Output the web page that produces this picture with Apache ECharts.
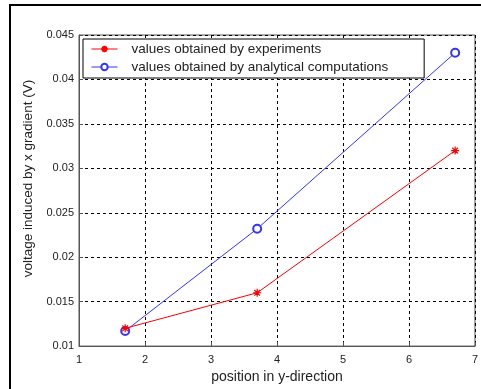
<!DOCTYPE html>
<html>
<head>
<meta charset="utf-8">
<script src="https://cdn.jsdelivr.net/npm/echarts@6/dist/echarts.min.js"></script>
<style>
html,body{margin:0;padding:0;background:#fff;}
#chart{width:481px;height:389px;}
</style>
</head>
<body>
<div id="chart"></div>
<script>
// measured points (position, voltage)
var xPos = [1.7, 3.7, 6.7];
var expValues = [0.012, 0.016, 0.032];
var calcValues = [0.0117, 0.0232, 0.043];
var seriesNames = ['values obtained by experiments', 'values obtained by analytical computations'];

var starPath = 'path://M0,-1L0,1M-1,0L1,0M-0.7,-0.7L0.7,0.7M-0.7,0.7L0.7,-0.7';

function pairs(xs, ys) {
    var out = [];
    for (var i = 0; i < xs.length; i++) {
        out.push([xs[i], ys[i]]);
    }
    return out;
}

var myChart = echarts.init(document.getElementById('chart'));
var font = 'Arial, "Liberation Sans", sans-serif';
var option = {
    animation: false,
    textStyle: {fontFamily: font},
    graphic: [{
        type: 'rect',
        shape: {x: 10, y: 5, width: 490, height: 400},
        style: {fill: 'none', stroke: '#000', lineWidth: 2},
        silent: true
    }],
    grid: {
        left: 79, right: 4, top: 35, bottom: 39,
        show: true,
        borderColor: '#555',
        borderWidth: 1
    },
    legend: {
        left: 83, top: 39,
        orient: 'vertical',
        backgroundColor: '#fff',
        borderColor: '#000',
        borderWidth: 1,
        padding: [2, 36, 3, 8],
        itemGap: 2,
        itemWidth: 26,
        itemHeight: 8,
        lineStyle: {width: 1},
        formatter: function (name) { return '{t|' + name + '}'; },
        textStyle: {
            fontSize: 13.5, color: '#222', fontFamily: font, padding: [0, 0, 0, 5], lineHeight: 16,
            rich: {t: {fontSize: 13.5, color: '#222', fontFamily: font, lineHeight: 16, padding: [0, 0, 0, 4]}}
        },
        data: seriesNames
    },
    xAxis: {
        type: 'value',
        min: 1, max: 7, interval: 1,
        name: 'position in y-direction',
        nameLocation: 'middle',
        nameGap: 22,
        nameTextStyle: {fontSize: 14, color: '#222'},
        axisLine: {lineStyle: {color: '#555'}},
        axisTick: {inside: true, length: 4, lineStyle: {color: '#555'}},
        axisLabel: {fontSize: 11, color: '#222', margin: 8},
        splitLine: {lineStyle: {color: '#000', type: [3, 3], width: 1}}
    },
    yAxis: {
        type: 'value',
        min: 0.01, max: 0.045, interval: 0.005,
        name: 'voltage induced by x gradient (V)',
        nameLocation: 'middle',
        nameGap: 37,
        nameTextStyle: {fontSize: 13.5, color: '#222', padding: [0, 0, 0, 24]},
        axisLine: {show: true, lineStyle: {color: '#555'}},
        axisTick: {show: true, inside: true, length: 4, lineStyle: {color: '#555'}},
        axisLabel: {
            fontSize: 11, color: '#222', margin: 5,
            formatter: function (v) { return String(parseFloat(v.toFixed(4))); }
        },
        splitLine: {lineStyle: {color: '#000', type: [3, 3], width: 1}}
    },
    series: [
        {
            name: seriesNames[0],
            type: 'line',
            data: pairs(xPos, expValues),
            symbol: starPath,
            symbolSize: 8,
            showAllSymbol: true,
            lineStyle: {color: '#ff0000', width: 1},
            itemStyle: {color: '#ff0000', borderColor: '#ff0000', borderWidth: 1.2},
            z: 3
        },
        {
            name: seriesNames[1],
            type: 'line',
            data: pairs(xPos, calcValues),
            symbol: 'emptyCircle',
            symbolSize: 8,
            lineStyle: {color: '#3333ff', width: 1},
            itemStyle: {color: '#3333ff', borderColor: '#3333ff', borderWidth: 1},
            z: 2
        }
    ]
};
myChart.setOption(option);
</script>
</body>
</html>
